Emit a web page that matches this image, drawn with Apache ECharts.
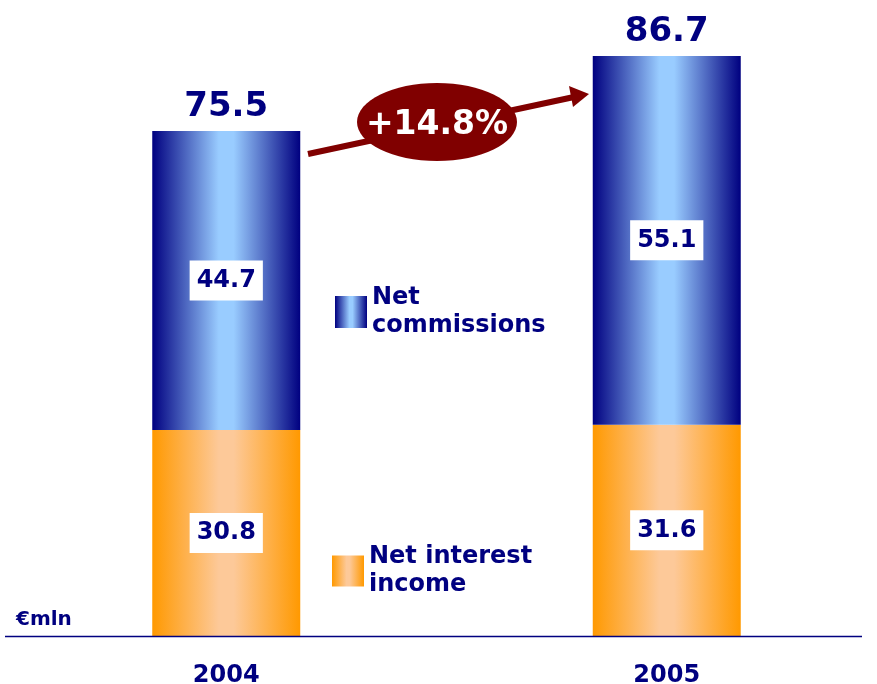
<!DOCTYPE html>
<html>
<head>
<meta charset="utf-8">
<script src="https://cdn.jsdelivr.net/npm/echarts@6/dist/echarts.min.js"></script>
<style>
    html, body { margin: 0; padding: 0; background: #fff; }
    #chart { width: 877px; height: 684px; }
</style>
</head>
<body>
<div id="chart"></div>
<script>
    // data
    const years = ['2004', '2005'];
    const netInterestIncome = [30.8, 31.6];
    const netCommissions = [44.7, 55.1];
    const totals = [75.5, 86.7];
    const growthLabel = '+14.8%';

    const NAVY = '#000080';
    const FONT = '"DejaVu Sans", Verdana, sans-serif';

    const blueFill = new echarts.graphic.LinearGradient(0, 0, 1, 0, [
        { offset: 0, color: '#000080' },
        { offset: 0.45, color: '#99ccff' },
        { offset: 0.55, color: '#99ccff' },
        { offset: 1, color: '#000080' }
    ]);
    const orangeFill = new echarts.graphic.LinearGradient(0, 0, 1, 0, [
        { offset: 0, color: '#ff9900' },
        { offset: 0.45, color: '#fdc999' },
        { offset: 0.55, color: '#fdc999' },
        { offset: 1, color: '#ff9900' }
    ]);

    const valueLabel = {
        show: true,
        position: 'inside',
        color: NAVY,
        fontFamily: FONT,
        fontWeight: 'bold',
        fontSize: 24,
        backgroundColor: '#fff',
        padding: [8, 7, 8, 7]
    };

    const legendText = { color: NAVY, fontFamily: FONT, fontWeight: 'bold', fontSize: 24, lineHeight: 28 };

    const chart = echarts.init(document.getElementById('chart'));
    chart.setOption({
        animation: false,
        grid: { left: 6, width: 881, top: 34, bottom: 48, containLabel: false, outerBoundsMode: 'none' },
        xAxis: {
            type: 'category',
            data: years,
            axisLine: { show: false },
            axisTick: { show: false },
            axisLabel: {
                color: NAVY,
                fontFamily: FONT,
                fontWeight: 'bold',
                fontSize: 24,
                margin: 28
            }
        },
        yAxis: {
            type: 'value',
            min: 0,
            max: 90,
            show: false
        },
        legend: [
            {
                left: 335, top: 284, padding: 0,
                icon: 'rect', itemWidth: 32, itemHeight: 32, itemGap: 0,
                selectedMode: false,
                data: [{ name: 'Net commissions' }],
                formatter: () => 'Net\ncommissions',
                textStyle: legendText
            },
            {
                left: 332, top: 543, padding: 0,
                icon: 'rect', itemWidth: 32, itemHeight: 31, itemGap: 0,
                selectedMode: false,
                data: [{ name: 'Net interest income' }],
                formatter: () => 'Net interest\nincome',
                textStyle: legendText
            }
        ],
        series: [
            {
                name: 'Total',
                type: 'bar',
                barWidth: 148,
                barGap: '-100%',
                data: totals,
                silent: true,
                itemStyle: { color: 'rgba(0,0,0,0)' },
                label: {
                    show: true,
                    position: 'top',
                    distance: 7,
                    color: NAVY,
                    fontFamily: FONT,
                    fontWeight: 'bold',
                    fontSize: 34
                },
                z: 1
            },
            {
                name: 'Net interest income',
                type: 'bar',
                stack: 'total',
                barWidth: 148,
                barGap: '-100%',
                data: netInterestIncome,
                itemStyle: { color: orangeFill },
                label: valueLabel,
                z: 2
            },
            {
                name: 'Net commissions',
                type: 'bar',
                stack: 'total',
                barWidth: 148,
                barGap: '-100%',
                data: netCommissions,
                itemStyle: { color: blueFill },
                label: valueLabel,
                z: 2
            }
        ],
        graphic: [
            {
                type: 'line',
                shape: { x1: 5, y1: 636.5, x2: 862, y2: 636.5 },
                style: { stroke: NAVY, lineWidth: 1.5 },
                z: 10
            },
            {
                type: 'text',
                left: 16, top: 610,
                style: { text: '€mln', fill: NAVY, font: 'bold 20px ' + FONT }
            },
            {
                type: 'line',
                shape: { x1: 308, y1: 154, x2: 574, y2: 97 },
                style: { stroke: '#800000', lineWidth: 6 },
                z: 20
            },
            {
                type: 'polygon',
                shape: { points: [[589, 94], [569, 86], [573, 107]] },
                style: { fill: '#800000' },
                z: 20
            },
            {
                type: 'ellipse',
                shape: { cx: 437, cy: 122, rx: 80, ry: 39 },
                style: { fill: '#800000' },
                z: 21
            },
            {
                type: 'text',
                x: 437, y: 125,
                style: {
                    text: growthLabel,
                    fill: '#fff',
                    font: 'bold 33px ' + FONT,
                    align: 'center',
                    verticalAlign: 'middle'
                },
                z: 22
            }
        ]
    });
</script>
</body>
</html>
